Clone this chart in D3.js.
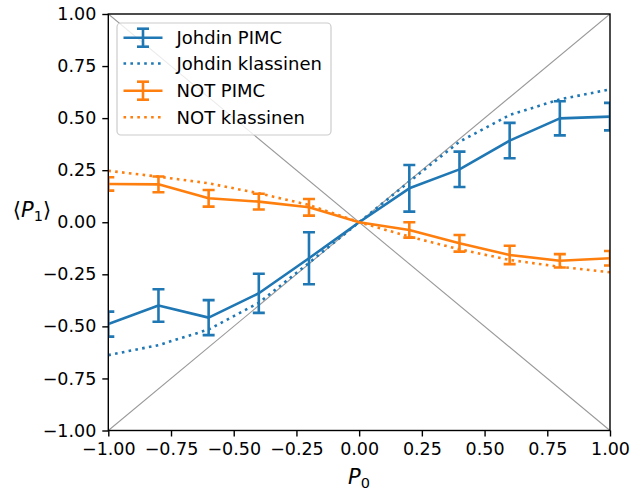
<!DOCTYPE html>
<html><head><meta charset="utf-8">
<script src="https://cdn.jsdelivr.net/npm/d3@7"></script>
<style>body{margin:0;background:#fff}svg{display:block}text{font-family:"DejaVu Sans",sans-serif}</style>
</head><body><svg id="c" width="631" height="491"></svg>
<script>
const xVals = [-1,-0.8,-0.6,-0.4,-0.2,0,0.2,0.4,0.6,0.8,1];
const johdinPimc = [-0.489,-0.40,-0.458,-0.341,-0.173,0,0.163,0.254,0.392,0.499,0.507];
const johdinErr = [0.06,0.078,0.084,0.094,0.125,0,0.112,0.085,0.085,0.082,0.066];
const johdinKlass = [-0.638,-0.59,-0.515,-0.387,-0.195,0,0.195,0.387,0.515,0.59,0.638];
const notPimc = [0.184,0.182,0.115,0.099,0.072,0,-0.037,-0.101,-0.157,-0.185,-0.173];
const notErr = [0.032,0.038,0.04,0.038,0.04,0,0.037,0.04,0.044,0.032,0.035];
const notKlass = [0.247,0.219,0.187,0.139,0.083,0,-0.069,-0.13,-0.181,-0.214,-0.24];
const tickVals = [-1,-0.75,-0.5,-0.25,0,0.25,0.5,0.75,1];
const legendLabels = ["Johdin PIMC","Johdin klassinen","NOT PIMC","NOT klassinen"];

const blue="#1f77b4", orange="#ff7f0e";
const L=108.3,R=610,T=14,B=430.5;
const svg=d3.select("#c");
const x=d3.scaleLinear().domain([-1,1]).range([L,R]);
const y=d3.scaleLinear().domain([-1,1]).range([B,T]);
const fmt=v=>d3.format(".2f")(v).replace("-","\u2212");

svg.append("clipPath").attr("id","clip").append("rect").attr("x",L).attr("y",T).attr("width",R-L).attr("height",B-T);
const g=svg.append("g").attr("clip-path","url(#clip)");

const diag=[-1,1];
const line=d3.line().x(d=>x(d[0])).y(d=>y(d[1]));
g.append("path").attr("d",line(diag.map(v=>[v,v]))).attr("stroke","#999").attr("stroke-width",1.1).attr("fill","none");
g.append("path").attr("d",line(diag.map(v=>[v,-v]))).attr("stroke","#999").attr("stroke-width",1.1).attr("fill","none");

const lw=2.6;
function errSeries(vals,errs,color){
  g.append("path").attr("d",line(xVals.map((v,i)=>[v,vals[i]]))).attr("stroke",color).attr("stroke-width",lw).attr("fill","none").attr("stroke-linejoin","round");
  xVals.forEach((v,i)=>{
    if(errs[i]<=0) return;
    const cx=x(v), y1=y(vals[i]-errs[i]), y2=y(vals[i]+errs[i]);
    g.append("line").attr("x1",cx).attr("x2",cx).attr("y1",y1).attr("y2",y2).attr("stroke",color).attr("stroke-width",lw);
    [y1,y2].forEach(yy=>g.append("line").attr("x1",cx-6).attr("x2",cx+6).attr("y1",yy).attr("y2",yy).attr("stroke",color).attr("stroke-width",lw));
  });
}
function dotSeries(vals,color){
  g.append("path").attr("d",line(xVals.map((v,i)=>[v,vals[i]]))).attr("stroke",color).attr("stroke-width",lw).attr("fill","none").attr("stroke-dasharray","2.6,4.3");
}
errSeries(johdinPimc,johdinErr,blue);
dotSeries(johdinKlass,blue);
errSeries(notPimc,notErr,orange);
dotSeries(notKlass,orange);

const xAxis=d3.axisBottom(x).tickValues(tickVals).tickFormat(fmt).tickSize(6).tickPadding(6);
const yAxis=d3.axisLeft(y).tickValues(tickVals).tickFormat(fmt).tickSize(6).tickPadding(6);
const gx=svg.append("g").attr("transform",`translate(0,${B})`).call(xAxis);
const gy=svg.append("g").attr("transform",`translate(${L},0)`).call(yAxis);
[gx,gy].forEach(a=>{a.select(".domain").remove();a.selectAll("line").attr("stroke","#000").attr("stroke-width",1.4);a.selectAll("text").attr("font-size",17.5).attr("fill","#000").attr("font-family","DejaVu Sans");});
svg.append("rect").attr("x",L).attr("y",T).attr("width",R-L).attr("height",B-T).attr("fill","none").attr("stroke","#000").attr("stroke-width",1.4);

const xl=svg.append("text").attr("x",359).attr("y",484).attr("text-anchor","middle").attr("font-size",21);
xl.append("tspan").attr("font-style","italic").text("P");
xl.append("tspan").attr("font-size",14.5).attr("dy",3.5).text("0");
const yl=svg.append("text").attr("x",32).attr("y",217).attr("text-anchor","middle").attr("font-size",21);
yl.append("tspan").text("\u27E8");
yl.append("tspan").attr("font-style","italic").text("P");
yl.append("tspan").attr("font-size",14.5).attr("dy",3.5).text("1");
yl.append("tspan").attr("dy",-3.5).text("\u27E9");

const lg=svg.append("g");
lg.append("rect").attr("x",117).attr("y",23).attr("width",214).attr("height",112).attr("rx",4).attr("fill","#fff").attr("fill-opacity",0.8).attr("stroke","#ccc").attr("stroke-width",1.2);
const rows=[37.7,63.5,90.7,117.3];
const styles=[[blue,false],[blue,true],[orange,false],[orange,true]];
legendLabels.forEach((lab,i)=>{
  const [c,dot]=styles[i], yy=rows[i];
  const h=lg.append("line").attr("x1",123.5).attr("x2",162.5).attr("y1",yy).attr("y2",yy).attr("stroke",c).attr("stroke-width",lw);
  if(dot) h.attr("stroke-dasharray","2.6,4.3");
  else {
    lg.append("line").attr("x1",143).attr("x2",143).attr("y1",yy-9).attr("y2",yy+9).attr("stroke",c).attr("stroke-width",lw);
    [yy-9,yy+9].forEach(v=>lg.append("line").attr("x1",137).attr("x2",149).attr("y1",v).attr("y2",v).attr("stroke",c).attr("stroke-width",lw));
  }
  lg.append("text").attr("x",176.5).attr("y",yy+6.5).attr("font-size",18).attr("fill","#000").text(lab);
});
</script></body></html>
